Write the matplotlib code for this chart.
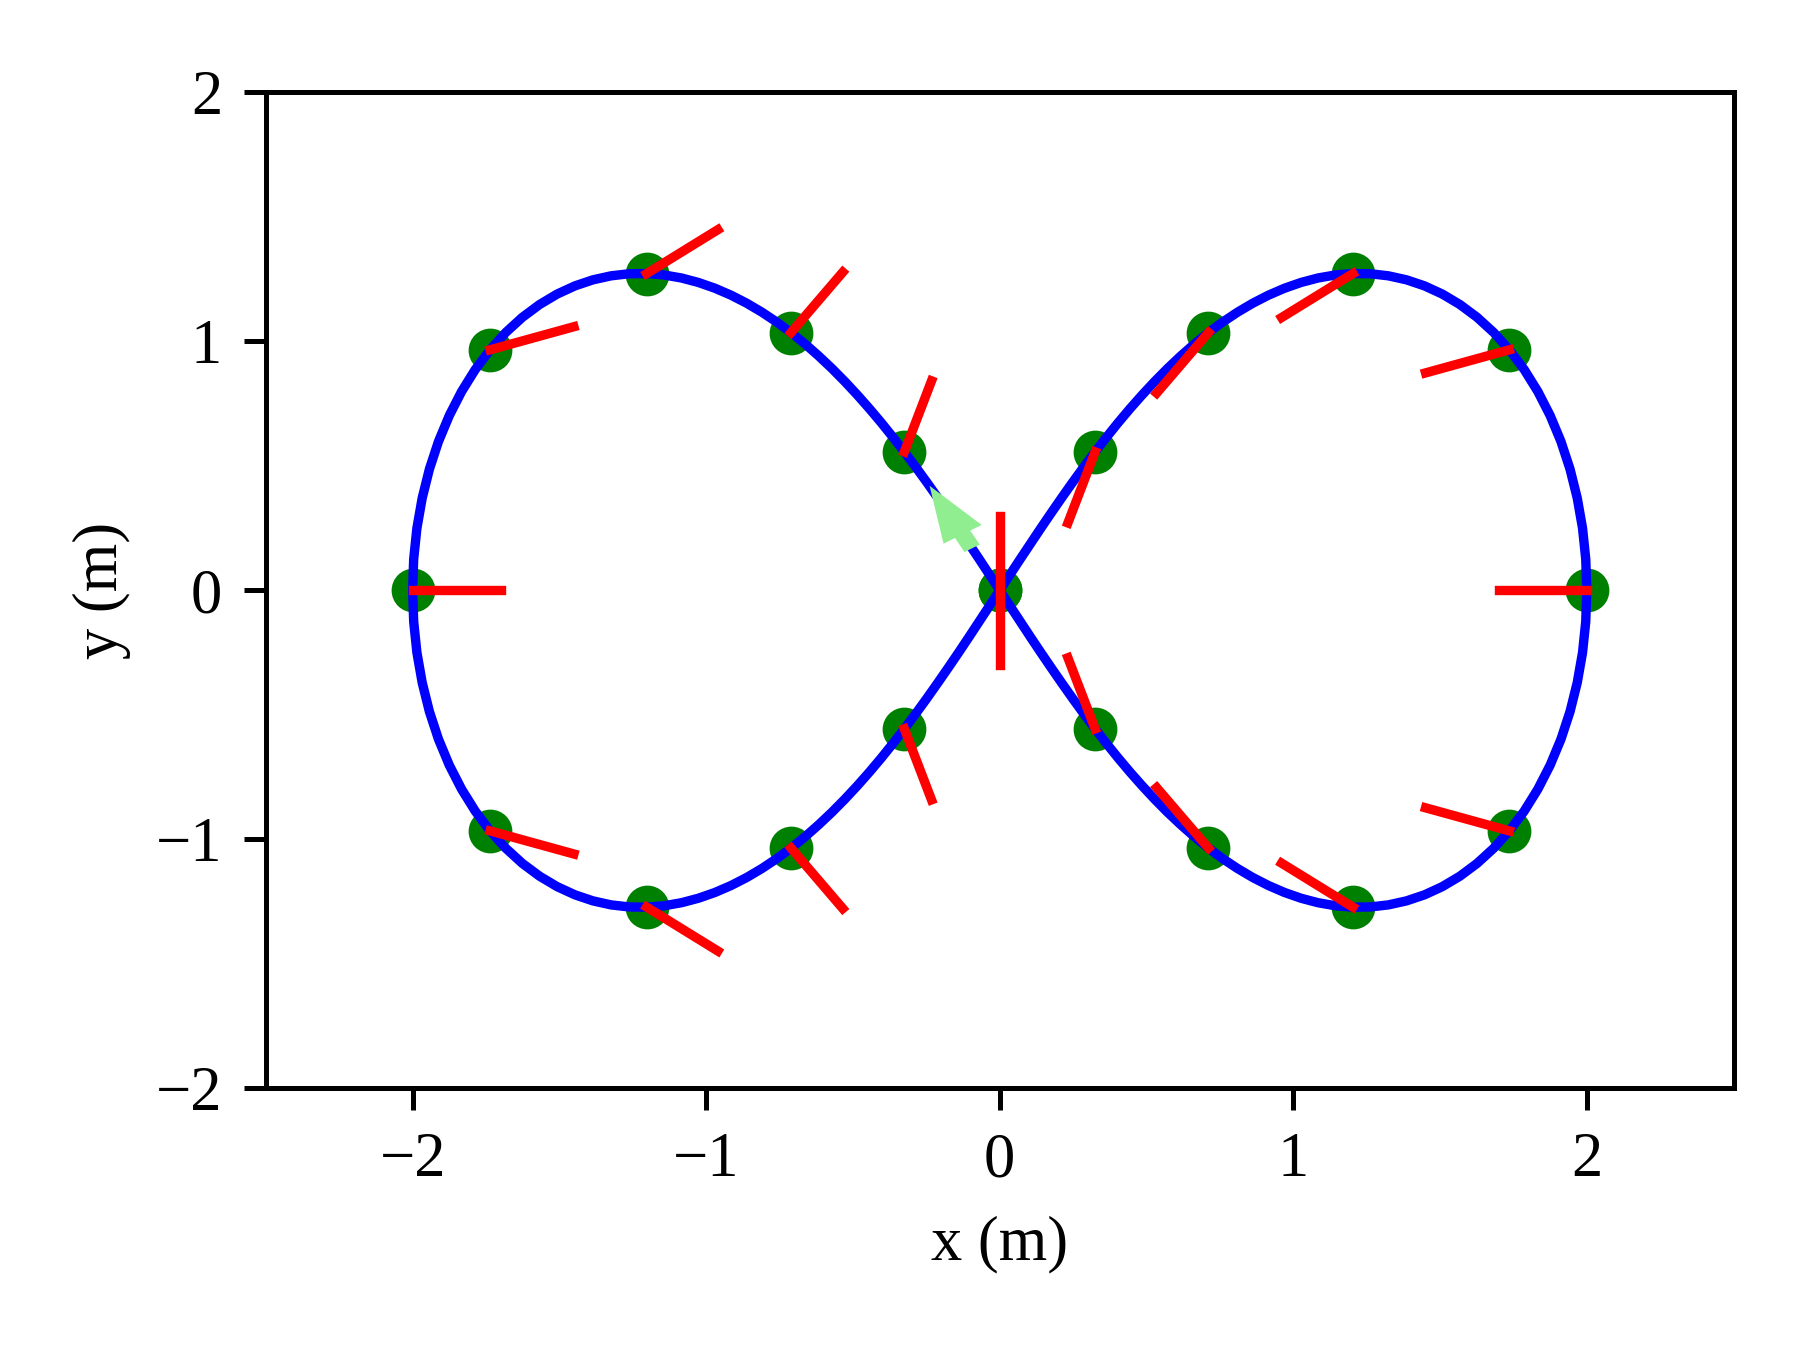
import numpy as np
import matplotlib
matplotlib.use('Agg')
import matplotlib.pyplot as plt

# ── Data ──────────────────────────────────────────────────────────────────
# figure-eight path, one list per branch
ur_x = [2.0000, 1.9964, 1.9855, 1.9675, 1.9429, 1.9120, 1.8752, 1.8333, 1.7868,
        1.7363, 1.6826, 1.6262, 1.5677, 1.5078, 1.4470, 1.3856, 1.3242, 1.2631,
        1.2026, 1.1428, 1.0841, 1.0266, 0.9704, 0.9156, 0.8621, 0.8102, 0.7596,
        0.7105, 0.6628, 0.6165, 0.5714, 0.5276, 0.4850, 0.4434, 0.4029, 0.3633,
        0.3245, 0.2865, 0.2492, 0.2125, 0.1763, 0.1405, 0.1051, 0.0699, 0.0349,
        0.0000]
ur_y = [0.0000, 0.1254, 0.2493, 0.3702, 0.4867, 0.5976, 0.7018, 0.7983, 0.8865,
        0.9658, 1.0358, 1.0965, 1.1478, 1.1898, 1.2228, 1.2471, 1.2631, 1.2714,
        1.2723, 1.2665, 1.2544, 1.2365, 1.2134, 1.1855, 1.1532, 1.1171, 1.0775,
        1.0347, 0.9891, 0.9410, 0.8908, 0.8385, 0.7846, 0.7291, 0.6724, 0.6144,
        0.5555, 0.4958, 0.4353, 0.3741, 0.3125, 0.2505, 0.1881, 0.1256, 0.0628,
        0.0000]
ll_x = [-0.0349, -0.0699, -0.1051, -0.1405, -0.1763, -0.2125, -0.2492, -0.2865,
        -0.3245, -0.3633, -0.4029, -0.4434, -0.4850, -0.5276, -0.5714, -0.6165,
        -0.6628, -0.7105, -0.7596, -0.8102, -0.8621, -0.9156, -0.9704, -1.0266,
        -1.0841, -1.1428, -1.2026, -1.2631, -1.3242, -1.3856, -1.4470, -1.5078,
        -1.5677, -1.6262, -1.6826, -1.7363, -1.7868, -1.8333, -1.8752, -1.9120,
        -1.9429, -1.9675, -1.9855, -1.9964, -2.0000]
ll_y = [-0.0628, -0.1256, -0.1881, -0.2505, -0.3125, -0.3741, -0.4353, -0.4958,
        -0.5555, -0.6144, -0.6724, -0.7291, -0.7846, -0.8385, -0.8908, -0.9410,
        -0.9891, -1.0347, -1.0775, -1.1171, -1.1532, -1.1855, -1.2134, -1.2365,
        -1.2544, -1.2665, -1.2723, -1.2714, -1.2631, -1.2471, -1.2228, -1.1898,
        -1.1478, -1.0965, -1.0358, -0.9658, -0.8865, -0.7983, -0.7018, -0.5976,
        -0.4867, -0.3702, -0.2493, -0.1254, 0.0000]
ul_x = [-1.9964, -1.9855, -1.9675, -1.9429, -1.9120, -1.8752, -1.8333, -1.7868,
        -1.7363, -1.6826, -1.6262, -1.5677, -1.5078, -1.4470, -1.3856, -1.3242,
        -1.2631, -1.2026, -1.1428, -1.0841, -1.0266, -0.9704, -0.9156, -0.8621,
        -0.8102, -0.7596, -0.7105, -0.6628, -0.6165, -0.5714, -0.5276, -0.4850,
        -0.4434, -0.4029, -0.3633, -0.3245, -0.2865, -0.2492, -0.2125, -0.1763,
        -0.1405, -0.1051, -0.0699, -0.0349, 0.0000]
ul_y = [0.1254, 0.2493, 0.3702, 0.4867, 0.5976, 0.7018, 0.7983, 0.8865,
        0.9658, 1.0358, 1.0965, 1.1478, 1.1898, 1.2228, 1.2471, 1.2631,
        1.2714, 1.2723, 1.2665, 1.2544, 1.2365, 1.2134, 1.1855, 1.1532,
        1.1171, 1.0775, 1.0347, 0.9891, 0.9410, 0.8908, 0.8385, 0.7846,
        0.7291, 0.6724, 0.6144, 0.5555, 0.4958, 0.4353, 0.3741, 0.3125,
        0.2505, 0.1881, 0.1256, 0.0628, 0.0000]
lr_x = [0.0349, 0.0699, 0.1051, 0.1405, 0.1763, 0.2125, 0.2492, 0.2865,
        0.3245, 0.3633, 0.4029, 0.4434, 0.4850, 0.5276, 0.5714, 0.6165,
        0.6628, 0.7105, 0.7596, 0.8102, 0.8621, 0.9156, 0.9704, 1.0266,
        1.0841, 1.1428, 1.2026, 1.2631, 1.3242, 1.3856, 1.4470, 1.5078,
        1.5677, 1.6262, 1.6826, 1.7363, 1.7868, 1.8333, 1.8752, 1.9120,
        1.9429, 1.9675, 1.9855, 1.9964, 2.0000]
lr_y = [-0.0628, -0.1256, -0.1881, -0.2505, -0.3125, -0.3741, -0.4353, -0.4958,
        -0.5555, -0.6144, -0.6724, -0.7291, -0.7846, -0.8385, -0.8908, -0.9410,
        -0.9891, -1.0347, -1.0775, -1.1171, -1.1532, -1.1855, -1.2134, -1.2365,
        -1.2544, -1.2665, -1.2723, -1.2714, -1.2631, -1.2471, -1.2228, -1.1898,
        -1.1478, -1.0965, -1.0358, -0.9658, -0.8865, -0.7983, -0.7018, -0.5976,
        -0.4867, -0.3702, -0.2493, -0.1254, 0.0000]

# sampled poses: position + heading (deg)
pose_x = [2.0, 1.736, 1.203, 0.711, 0.325, 0.0, -0.325, -0.711, -1.203, -1.736,
          -2.0, -1.736, -1.203, -0.711, -0.325, 0.0, 0.325, 0.711, 1.203, 1.736]
pose_y = [0.0, 0.966, 1.272, 1.035, 0.556, 0.0, -0.556, -1.035, -1.272, -0.966,
          0.0, 0.966, 1.272, 1.035, 0.556, 0.0, -0.556, -1.035, -1.272, -0.966]
heading = [180, 198, 216, 234, 252, 270, 288, 306, 324, 342,
           0, 18, 36, 54, 72, 90, 108, 126, 144, 162]

HEAD_LEN = 0.3
arrow_start = (-0.094, 0.169)
arrow_delta = (-0.145, 0.251)

# ── Style ─────────────────────────────────────────────────────────────────
plt.rcParams['font.family'] = 'serif'
plt.rcParams['font.serif'] = ['Liberation Serif', 'DejaVu Serif']
plt.rcParams['font.size'] = 10

fig, ax = plt.subplots(figsize=(4, 3), dpi=450)
fig.subplots_adjust(left=0.1477, right=0.9631, bottom=0.1938, top=0.9316)

path_x = ur_x + ll_x + ul_x + lr_x
path_y = ur_y + ll_y + ul_y + lr_y

ax.plot(pose_x, pose_y, 'o', color='green', zorder=2)
ax.plot(path_x, path_y, '-', color='blue', lw=1.5, zorder=3)

th = np.deg2rad(heading)
px, py = np.array(pose_x), np.array(pose_y)
for x0, y0, c, s in zip(px, py, np.cos(th), np.sin(th)):
    ax.plot([x0, x0 + HEAD_LEN * c], [y0, y0 + HEAD_LEN * s],
            color='red', lw=1.5, zorder=4)

ax.arrow(arrow_start[0], arrow_start[1], arrow_delta[0], arrow_delta[1],
         width=0.06, head_width=0.15, head_length=0.225,
         length_includes_head=True, color='lightgreen', lw=0, zorder=5)

ax.set_xlim(-2.5, 2.5)
ax.set_ylim(-2, 2)
ax.set_xticks([-2, -1, 0, 1, 2])
ax.set_yticks([-2, -1, 0, 1, 2])
ax.set_xlabel('x (m)')
ax.set_ylabel('y (m)')

fig.savefig('out.png', dpi=450)
